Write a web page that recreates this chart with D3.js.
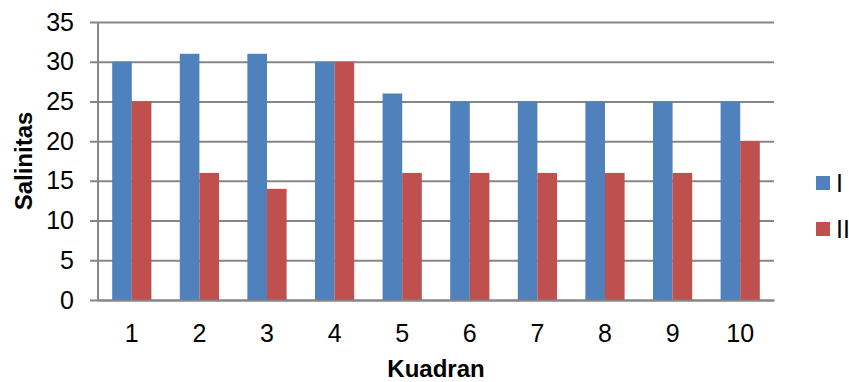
<!DOCTYPE html>
<html>
<head>
<meta charset="utf-8">
<script src="https://cdn.jsdelivr.net/npm/d3@7"></script>
<style>
  body { margin: 0; background: #fff; }
  svg { display: block; font-family: "Liberation Sans", Arial, sans-serif; }
</style>
</head>
<body>
<svg id="chart" width="849" height="382"></svg>
<script>
// data
const kuadran = ["1", "2", "3", "4", "5", "6", "7", "8", "9", "10"]
const seriesI = [30, 31, 31, 30, 26, 25, 25, 25, 25, 25]
const seriesII = [25, 16, 14, 30, 16, 16, 16, 16, 16, 20]
const seriesNames = ["I", "II"]
const yTicks = [0, 5, 10, 15, 20, 25, 30, 35]
const colors = ["#4F81BD", "#C0504D"]

const margin = { top: 22, right: 75, bottom: 82, left: 98 }
const width = 849 - margin.left - margin.right
const height = 382 - margin.top - margin.bottom

const svg = d3.select("#chart")
const group = svg.append("g")
    .attr("transform", `translate(${margin.left}, ${margin.top})`)

const rows = kuadran.map((k, i) => ({ k: k, values: [seriesI[i], seriesII[i]] }))

// scales
const xScale = d3.scaleBand()
    .domain(kuadran)
    .range([0, width])
    .paddingInner(0.42)
    .paddingOuter(0.21)

const xSub = d3.scaleBand()
    .domain(seriesNames)
    .range([0, xScale.bandwidth()])

const yScale = d3.scaleLinear()
    .domain([0, 35])
    .range([height, 0])

// gridlines + y labels
const yAxisGenerator = d3.axisLeft(yScale)
    .tickValues(yTicks)
    .tickSize(-width)
    .tickPadding(24)

const yAxis = group.append("g")
    .call(yAxisGenerator)
yAxis.select(".domain").remove()
yAxis.selectAll(".tick line")
    .attr("stroke", "#868686")
    .attr("stroke-width", 2)
    .attr("x1", -8)
yAxis.selectAll(".tick text")
    .attr("font-size", "25px")
    .attr("fill", "#000")
    .attr("font-family", "Liberation Sans, Arial, sans-serif")

// bars
const cat = group.selectAll(".cat")
    .data(rows)
    .enter()
    .append("g")
        .attr("transform", d => `translate(${xScale(d.k)}, 0)`)

cat.selectAll("rect")
    .data(d => d.values.map((v, j) => ({ name: seriesNames[j], v: v, j: j })))
    .enter()
    .append("rect")
        .attr("x", d => xSub(d.name))
        .attr("y", d => yScale(d.v))
        .attr("width", xSub.bandwidth())
        .attr("height", d => height - yScale(d.v))
        .attr("fill", d => colors[d.j])

// axis lines
group.append("line")
    .attr("x1", 0).attr("x2", 0)
    .attr("y1", 0).attr("y2", height)
    .attr("stroke", "#868686")
    .attr("stroke-width", 2)

const xAxisGenerator = d3.axisBottom(xScale)
    .tickSize(0)
    .tickPadding(24)

const xAxis = group.append("g")
    .attr("transform", `translate(0, ${height})`)
    .call(xAxisGenerator)
xAxis.select(".domain")
    .attr("stroke", "#868686")
    .attr("stroke-width", 2)
xAxis.selectAll(".tick text")
    .attr("font-size", "25px")
    .attr("fill", "#000")
    .attr("font-family", "Liberation Sans, Arial, sans-serif")

// axis titles
svg.append("text")
    .attr("x", margin.left + width / 2)
    .attr("y", 377)
    .attr("text-anchor", "middle")
    .attr("font-weight", "bold")
    .attr("font-size", "24px")
    .text("Kuadran")

svg.append("text")
    .attr("transform", `translate(32, 161) rotate(-90)`)
    .attr("text-anchor", "middle")
    .attr("font-weight", "bold")
    .attr("font-size", "24px")
    .text("Salinitas")

// legend
const legend = svg.append("g")
    .selectAll("g")
    .data(seriesNames)
    .enter()
    .append("g")
        .attr("transform", (d, i) => `translate(816, ${176 + i * 46})`)

legend.append("rect")
    .attr("width", 14)
    .attr("height", 14)
    .attr("fill", (d, i) => colors[i])

legend.append("text")
    .attr("x", 20)
    .attr("y", 16)
    .attr("font-size", "25px")
    .text(d => d)
</script>
</body>
</html>
